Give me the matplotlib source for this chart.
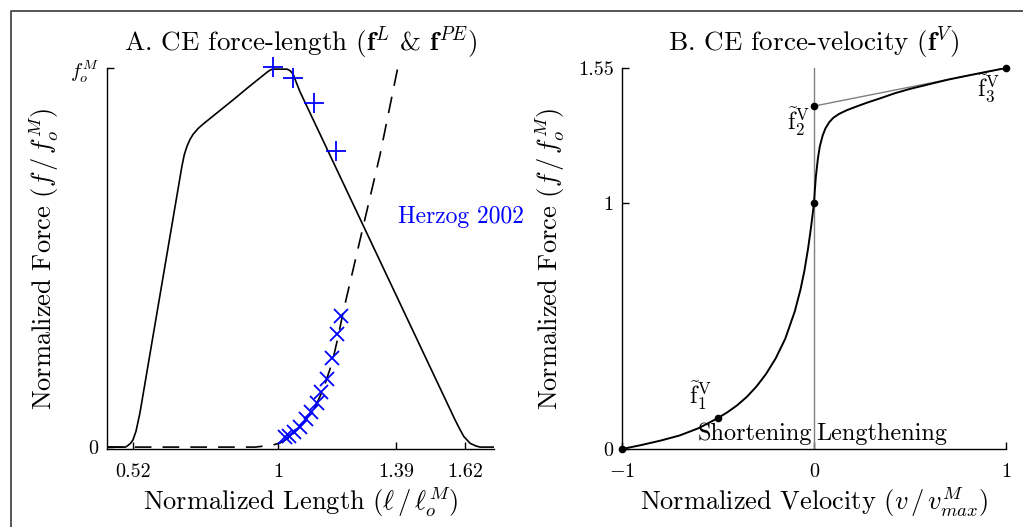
import matplotlib
matplotlib.use("Agg")
import matplotlib.pyplot as plt
from matplotlib.lines import Line2D

plt.rcParams.update({
    "font.family": "serif",
    "font.serif": ["cmr10"],
    "mathtext.fontset": "cm",
    "axes.unicode_minus": False,
    "axes.formatter.use_mathtext": True,
    "lines.scale_dashes": False,
    "axes.linewidth": 1.0,
    "xtick.direction": "in",
    "ytick.direction": "in",
    "xtick.major.size": 5,
    "ytick.major.size": 5,
})

# ---- Panel A: active force-length (solid) and passive force-length (dashed)
fl_len = [0.434, 0.495, 0.503, 0.512, 0.520, 0.530, 0.543, 0.600, 0.650, 0.682,
          0.690, 0.699, 0.709, 0.719, 0.735, 0.752, 0.850, 0.900, 0.964, 0.975,
          0.983, 1.030, 1.040, 1.050, 1.060, 1.073, 1.200, 1.350, 1.500, 1.586,
          1.600, 1.615, 1.636, 1.655, 1.669, 1.715]
fl_force = [0.0, 0.0, 0.004, 0.010, 0.019, 0.042, 0.090, 0.357, 0.591, 0.741,
            0.772, 0.794, 0.812, 0.825, 0.840, 0.852, 0.915, 0.948, 0.989, 0.995,
            0.997, 0.997, 0.993, 0.984, 0.963, 0.937, 0.723, 0.470, 0.217, 0.072,
            0.050, 0.028, 0.010, 0.003, 0.0, 0.0]

pe_len = [0.434, 0.924, 0.957, 0.985, 1.007, 1.040, 1.083, 1.123, 1.149, 1.179,
          1.199, 1.215, 1.272, 1.338, 1.397]
pe_force = [0.0, 0.0, 0.003, 0.006, 0.011, 0.026, 0.063, 0.106, 0.151, 0.222,
            0.291, 0.354, 0.548, 0.772, 1.003]

# Herzog 2002 measurements
hz_active_len = [0.983, 1.050, 1.119, 1.192]
hz_active_force = [1.003, 0.974, 0.907, 0.780]
hz_passive_len = [1.023, 1.036, 1.053, 1.073, 1.093, 1.109, 1.129, 1.142, 1.162,
                  1.179, 1.195, 1.209]
hz_passive_force = [0.026, 0.029, 0.040, 0.053, 0.074, 0.093, 0.116, 0.146, 0.180,
                    0.235, 0.299, 0.347]

a_xticks = [0.52, 1.0, 1.39, 1.62]
a_xticklabels = ["0.52", "1", "1.39", "1.62"]
a_yticks = [0.0, 1.0]
a_yticklabels = ["0", r"$f^M_o$"]

# ---- Panel B: force-velocity
fv_vel = [-1.0, -0.9, -0.8, -0.7, -0.6, -0.5, -0.45, -0.4, -0.35, -0.3,
          -0.25, -0.2, -0.15, -0.1, -0.07, -0.05, -0.03, -0.015, 0.0, 0.005,
          0.01, 0.02, 0.03, 0.045, 0.06, 0.08, 0.1, 0.13, 0.17, 0.22,
          0.28, 0.35, 0.42, 0.5, 0.6, 0.7, 0.8, 0.9, 1.0]
fv_force = [0.0, 0.016, 0.034, 0.055, 0.085, 0.126, 0.150, 0.178, 0.212, 0.254,
            0.305, 0.368, 0.448, 0.560, 0.650, 0.725, 0.820, 0.905, 1.0, 1.06,
            1.11, 1.18, 1.23, 1.275, 1.305, 1.33, 1.347, 1.363, 1.378, 1.393,
            1.41, 1.428, 1.447, 1.465, 1.484, 1.503, 1.519, 1.5345, 1.55]

fv_knot_vel = [-1.0, -0.5, 0.0, 0.0, 1.0]
fv_knot_force = [0.0, 0.126, 1.0, 1.395, 1.55]
fv_tangent_vel = [0.0, 1.0]
fv_tangent_force = [1.395, 1.55]

b_xticks = [-1.0, 0.0, 1.0]
b_xticklabels = [r"$-1$", "0", "1"]
b_yticks = [0.0, 1.0, 1.55]
b_yticklabels = ["0", "1", "1.55"]

W, H = 1023, 527
fig = plt.figure(figsize=(W / 100, H / 100), dpi=100)

# outer frame line (top and left edges)
fig.add_artist(Line2D([11 / W, 11 / W, 1.05], [-0.05, 1 - 11 / H, 1 - 11 / H],
                      transform=fig.transFigure, color="#555555", lw=1.4))

tick_fs = 14.5
label_fs = 19
title_fs = 19.5
note_fs = 17.5

# Panel A
axA = fig.add_axes([107 / W, 1 - 449 / H, 387 / W, 381 / H])
axA.plot(fl_len, fl_force, color="black", lw=1.2)
axA.plot(pe_len, pe_force, color="black", lw=1.2, dashes=(12, 8))
axA.plot(hz_active_len, hz_active_force, linestyle="none", marker="+",
         color="blue", markersize=15, markeredgewidth=1.3, clip_on=False)
axA.plot(hz_passive_len, hz_passive_force, linestyle="none", marker="x",
         color="blue", markersize=10, markeredgewidth=1.3, clip_on=False)
axA.text(1.397, 0.606, "Herzog 2002", color="blue", fontsize=17,
         ha="left", va="center")
axA.set_xlim(0.434, 1.715)
axA.set_ylim(-0.005, 1.0)
axA.set_xticks(a_xticks)
axA.set_xticklabels(a_xticklabels, fontsize=tick_fs)
axA.set_yticks(a_yticks)
axA.set_yticklabels(a_yticklabels, fontsize=tick_fs)
axA.set_xlabel(r"Normalized Length ($\ell\,/\,\ell^M_o$)", fontsize=label_fs, labelpad=3)
axA.set_ylabel(r"Normalized Force ($f\,/\,f^M_o$)", fontsize=label_fs, labelpad=6)
axA.set_title(r"A. CE force-length ($\mathbf{f}^L$ & $\mathbf{f}^{PE}$)",
              fontsize=title_fs, pad=12)

# Panel B
axB = fig.add_axes([622 / W, 1 - 449 / H, 384 / W, 381 / H])
axB.plot([0, 0], [0, 1.55], color="#808080", lw=1.0)
axB.plot(fv_tangent_vel, fv_tangent_force, color="#808080", lw=1.0)
axB.plot(fv_vel, fv_force, color="black", lw=1.4)
axB.plot(fv_knot_vel, fv_knot_force, linestyle="none", marker="o",
         color="black", markersize=4.5, clip_on=False)
axB.text(-0.53, 0.15, r"$\tilde{\mathrm{f}}^{\mathrm{V}}_1$", fontsize=note_fs,
         ha="right", va="bottom")
axB.text(-0.02, 1.40, r"$\tilde{\mathrm{f}}^{\mathrm{V}}_2$", fontsize=note_fs,
         ha="right", va="top")
axB.text(0.97, 1.53, r"$\tilde{\mathrm{f}}^{\mathrm{V}}_3$", fontsize=note_fs,
         ha="right", va="top")
axB.text(-0.01, 0.016, "Shortening", fontsize=note_fs, ha="right", va="bottom")
axB.text(0.01, 0.016, "Lengthening", fontsize=note_fs, ha="left", va="bottom")
axB.set_xlim(-1.0, 1.0)
axB.set_ylim(0.0, 1.55)
axB.set_xticks(b_xticks)
axB.set_xticklabels(b_xticklabels, fontsize=tick_fs)
axB.set_yticks(b_yticks)
axB.set_yticklabels(b_yticklabels, fontsize=tick_fs)
axB.set_xlabel(r"Normalized Velocity ($v\,/\,v^M_{max}$)", fontsize=label_fs, labelpad=3)
axB.set_ylabel(r"Normalized Force ($f\,/\,f^M_o$)", fontsize=label_fs, labelpad=8)
axB.set_title(r"B. CE force-velocity ($\mathbf{f}^V$)", fontsize=title_fs, pad=12)

for ax in (axA, axB):
    ax.spines["top"].set_visible(False)
    ax.spines["right"].set_visible(False)
    ax.tick_params(axis="both", which="major", width=1.0)
    ax.tick_params(axis="x", pad=10)
    ax.tick_params(axis="y", pad=6)

fig.savefig("out.png", dpi=100)
